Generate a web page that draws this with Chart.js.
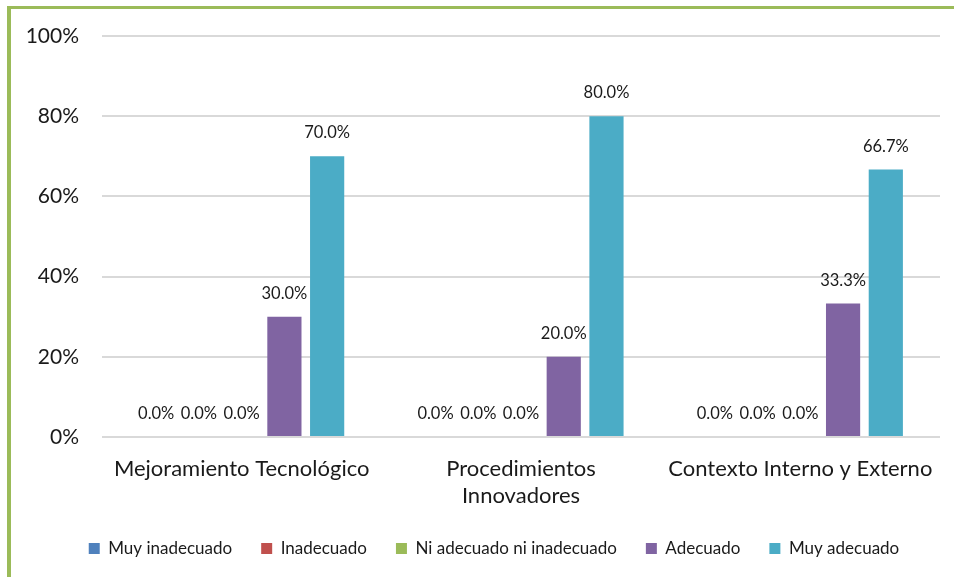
<!DOCTYPE html>
<html><head><meta charset="utf-8">
<script src="https://cdn.jsdelivr.net/npm/chart.js@4"></script>
<style>html,body{margin:0;padding:0;background:#fff;}#wrap{position:relative;width:954px;height:577px;}</style>
</head><body><div id="wrap"><canvas id="c" width="954" height="577"></canvas></div>
<script>
const categories = ['Mejoramiento Tecnológico', ['Procedimientos', 'Innovadores'], 'Contexto Interno y Externo'];
const seriesNames = ['Muy inadecuado', 'Inadecuado', 'Ni adecuado ni inadecuado', 'Adecuado', 'Muy adecuado'];
const muyInadecuado = [0.0, 0.0, 0.0];
const inadecuado = [0.0, 0.0, 0.0];
const niAdecuado = [0.0, 0.0, 0.0];
const adecuado = [30.0, 20.0, 33.3];
const muyAdecuado = [70.0, 80.0, 66.7];
const seriesColors = ['#4F81BD', '#C0504D', '#9BBB59', '#8064A2', '#4BACC6'];
const yTickValues = [0, 20, 40, 60, 80, 100];

const FONT = 'Lato, Carlito, Calibri, sans-serif';
const TEXT = '#1a1a1a';
const seriesValues = [muyInadecuado, inadecuado, niAdecuado, adecuado, muyAdecuado];

const frame = {
  id: 'frame',
  beforeDraw(chart) {
    const c = chart.ctx;
    c.save();
    c.fillStyle = '#fff';
    c.fillRect(0, 0, chart.width, chart.height);
    c.fillStyle = '#9BBB59';
    c.fillRect(7, 6, 4, chart.height - 6);
    c.fillRect(7, 6, chart.width - 7, 3);
    c.restore();
  }
};

const legendShift = {
  id: 'legendShift',
  afterLayout(chart) {
    if (chart.legend) {
      chart.legend.left += 18;
      chart.legend.right += 18;
    }
  }
};

const dataLabels = {
  id: 'dataLabels',
  afterDatasetsDraw(chart) {
    const c = chart.ctx;
    c.save();
    c.font = '16.5px ' + FONT;
    c.fillStyle = TEXT;
    c.textAlign = 'center';
    c.textBaseline = 'bottom';
    chart.data.datasets.forEach((ds, i) => {
      const meta = chart.getDatasetMeta(i);
      meta.data.forEach((el, j) => {
        c.fillText(ds.data[j].toFixed(1) + '%', el.x, el.y - 15);
      });
    });
    c.restore();
  }
};

new Chart(document.getElementById('c'), {
  type: 'bar',
  data: {
    labels: categories,
    datasets: seriesNames.map((n, i) => ({
      label: n,
      data: seriesValues[i],
      backgroundColor: seriesColors[i],
      borderWidth: 0,
      categoryPercentage: 0.765,
      barPercentage: 0.8
    }))
  },
  options: {
    responsive: false,
    animation: false,
    layout: { padding: { left: 12, right: 14, top: 36, bottom: 10 } },
    plugins: {
      legend: {
        position: 'bottom',
        labels: {
          boxWidth: 11, boxHeight: 11, padding: 29,
          font: { family: FONT, size: 17 }, color: TEXT
        }
      },
      tooltip: { enabled: false }
    },
    scales: {
      x: {
        grid: { display: false },
        border: { display: false },
        ticks: {
          maxRotation: 0, autoSkip: false, padding: 10,
          font: { family: FONT, size: 22, lineHeight: 1.23 }, color: TEXT
        },
        afterFit(s) { s.height = 74; }
      },
      y: {
        min: 0, max: 100,
        afterBuildTicks(s) { s.ticks = yTickValues.map(v => ({ value: v })); },
        grid: { color: '#D9D9D9', lineWidth: 2, drawTicks: false },
        border: { display: false },
        ticks: {
          padding: 23,
          font: { family: FONT, size: 21 }, color: TEXT,
          callback: v => v + '%'
        },
        afterFit(s) { s.width = 90; }
      }
    }
  },
  plugins: [frame, legendShift, dataLabels]
});
</script></body></html>
